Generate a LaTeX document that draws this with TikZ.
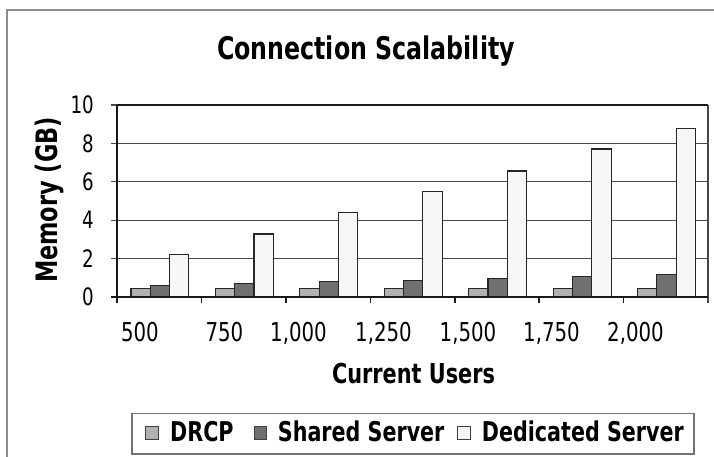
\documentclass[tikz,border=0pt]{standalone}
\usepackage{fontspec}
\setmainfont{DejaVu Sans}[FakeStretch=0.76]
\definecolor{drcp}{gray}{0.70}
\definecolor{shared}{gray}{0.44}
\definecolor{dedicated}{gray}{0.97}
\tikzset{
	bar/.style={draw=black!85, line width=1.1pt},
	gridln/.style={draw=black!72, line width=1.3pt},
	axisln/.style={draw=black!90, line width=1.6pt},
	ylab/.style={anchor=east, inner sep=0pt, font=\fontsize{24}{28}\selectfont},
	xlab/.style={anchor=base east, inner sep=0pt, font=\fontsize{26}{30}\selectfont},
	axistitle/.style={anchor=base, inner sep=0pt, font=\fontsize{27.4}{32}\selectfont\bfseries},
	legkey/.style={draw=black!75, line width=0.8pt, minimum size=12.5pt, inner sep=0pt},
	legtext/.style={anchor=base west, inner sep=0pt, font=\fontsize{27.2}{31}\selectfont\bfseries}
}
\def\membar[#1](#2:#3:#4){\draw[bar, fill=#1] ({117+84.43*#2+#3}, 297) rectangle +(19.3, {-19.2*#4})}

\begin{document}
\begin{tikzpicture}[x=1pt, y=-1pt]
		%%%%% START %%%%%
		\useasboundingbox (0, 0) rectangle (714, 457);
		
		\draw[line width=2pt, color=black!45] (7, 457) -- (7, 10) -- (714, 10);
		
		\node[anchor=base, inner sep=0pt, font=\fontsize{31.2}{36}\selectfont\bfseries] (title) at (366, 60) {Connection Scalability};
		
		\draw[gridln] (111, 258.6) -- (708, 258.6);
		\draw[gridln] (111, 220.2) -- (708, 220.2);
		\draw[gridln] (111, 181.8) -- (708, 181.8);
		\draw[gridln] (111, 143.4) -- (708, 143.4);
		\draw[gridln] (111, 105) -- (117, 105);
		\draw[gridln] (708, 105) -- (708, 303);
		\draw[axisln] (117, 105) -- (708, 105);
		
		\membar[drcp](0:14:0.43); \membar[shared](0:33.3:0.61); \membar[dedicated](0:52.6:2.2);
		\membar[drcp](1:14:0.43); \membar[shared](1:33.3:0.72); \membar[dedicated](1:52.6:3.28);
		\membar[drcp](2:14:0.43); \membar[shared](2:33.3:0.82); \membar[dedicated](2:52.6:4.41);
		\membar[drcp](3:14:0.43); \membar[shared](3:33.3:0.88); \membar[dedicated](3:52.6:5.48);
		\membar[drcp](4:14:0.43); \membar[shared](4:33.3:0.97); \membar[dedicated](4:52.6:6.56);
		\membar[drcp](5:14:0.43); \membar[shared](5:33.3:1.06); \membar[dedicated](5:52.6:7.71);
		\membar[drcp](6:14:0.43); \membar[shared](6:33.3:1.15); \membar[dedicated](6:52.6:8.77);
		
		\draw[axisln] (117, 105) -- (117, 303);
		\draw[axisln] (111, 297) -- (708, 297);
		\draw[axisln] (201.4, 297) -- (201.4, 303);
		\draw[axisln] (285.9, 297) -- (285.9, 303);
		\draw[axisln] (370.3, 297) -- (370.3, 303);
		\draw[axisln] (454.7, 297) -- (454.7, 303);
		\draw[axisln] (539.2, 297) -- (539.2, 303);
		\draw[axisln] (623.6, 297) -- (623.6, 303);
		
		\node[ylab] (y0) at (94, 297) {0};
		\node[ylab] (y2) at (94, 258.6) {2};
		\node[ylab] (y4) at (94, 220.2) {4};
		\node[ylab] (y6) at (94, 181.8) {6};
		\node[ylab] (y8) at (94, 143.4) {8};
		\node[ylab] (y10) at (94, 105) {10};
		
		\node[xlab] (x500) at (159, 341.5) {500};
		\node[xlab] (x750) at (243.5, 341.5) {750};
		\node[xlab] (x1000) at (327, 341.5) {1,000};
		\node[xlab] (x1250) at (412, 341.5) {1,250};
		\node[xlab] (x1500) at (496.5, 341.5) {1,500};
		\node[xlab] (x1750) at (580, 341.5) {1,750};
		\node[xlab] (x2000) at (664, 341.5) {2,000};
		
		\node[axistitle] (xtitle) at (413.5, 383.3) {Current Users};
		\node[axistitle, rotate=90, font=\fontsize{29.5}{34}\selectfont\bfseries] (ytitle) at (57, 200) {Memory (GB)};
		
		\draw[line width=1.2pt, color=black!55] (132, 413.3) rectangle (694, 454);
		\node[legkey, fill=drcp] (kdrcp) at (152, 433) {};
		\node[legtext] (tdrcp) at (170, 441.5) {DRCP};
		\node[legkey, fill=shared] (kshared) at (260.3, 433) {};
		\node[legtext] (tshared) at (277.7, 441.5) {Shared Server};
		\node[legkey, fill=dedicated] (kdedicated) at (463.8, 433) {};
		\node[legtext] (tdedicated) at (481.7, 441.5) {Dedicated Server};
		
		%%%%% END %%%%%
\end{tikzpicture}
\end{document}
